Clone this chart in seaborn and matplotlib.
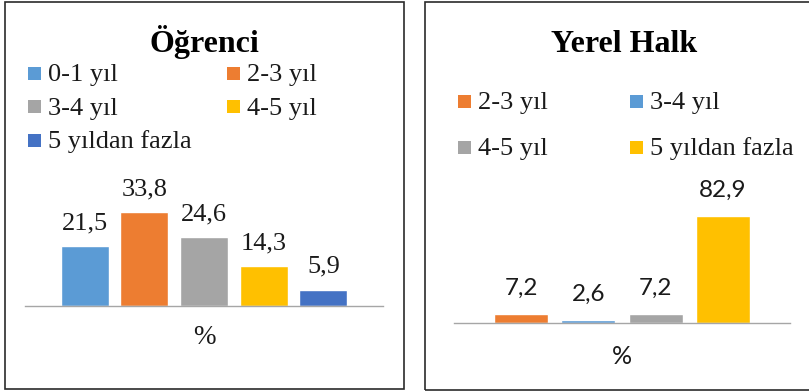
import matplotlib
matplotlib.use("Agg")
import matplotlib.pyplot as plt
from matplotlib.patches import Rectangle
import seaborn as sns

# Survey results: residence duration shares (%)
ogrenci_labels = ["0-1 yıl", "2-3 yıl", "3-4 yıl", "4-5 yıl", "5 yıldan fazla"]
ogrenci_values = [21.5, 33.8, 24.6, 14.3, 5.9]
ogrenci_colors = ["#5B9BD5", "#ED7D31", "#A5A5A5", "#FFC000", "#4472C4"]

halk_labels = ["2-3 yıl", "3-4 yıl", "4-5 yıl", "5 yıldan fazla"]
halk_values = [7.2, 2.6, 7.2, 82.9]
halk_colors = ["#ED7D31", "#5B9BD5", "#A5A5A5", "#FFC000"]

axis_label = "%"
titles = ["Öğrenci", "Yerel Halk"]

sns.set_theme(style="white")
W, H = 809, 391
fig = plt.figure(figsize=(W / 100, H / 100), dpi=100)
fig.patch.set_facecolor("white")

SERIF = ["Liberation Serif", "DejaVu Serif"]
SANS = ["Lato", "DejaVu Sans"]


def fx(px):
    return px / W


def fy(py):
    return 1 - py / H


def add_axes_px(left, right, top, bottom):
    return fig.add_axes([fx(left), fy(bottom), fx(right - left), (bottom - top) / H])


def fmt(v):
    return f"{v:.1f}".replace(".", ",")


def panel_frame(x0, x1, y0, y1):
    fig.add_artist(Rectangle((fx(x0), fy(y1)), fx(x1 - x0), (y1 - y0) / H,
                             transform=fig.transFigure, fill=False,
                             edgecolor="#2b2b2b", linewidth=1.2))


def bar_panel(ax, labels, values, colors, ymax, label_font, label_size, pad_pt):
    sns.barplot(x=labels, y=values, hue=labels, palette=colors, hue_order=labels,
                order=labels, width=0.805, saturation=1, legend=False, ax=ax)
    n = len(labels)
    ax.set_xlim(-1, n)
    ax.set_ylim(0, ymax)
    for i, v in enumerate(values):
        ax.annotate(fmt(v), (i, v), xytext=(0, pad_pt), textcoords="offset points",
                    ha="center", va="baseline", fontsize=label_size,
                    family=label_font, color="#1a1a1a")
    for s in ["top", "left", "right"]:
        ax.spines[s].set_visible(False)
    ax.spines["bottom"].set_color("#A6A6A6")
    ax.spines["bottom"].set_linewidth(1.0)
    ax.set_xticks([])
    ax.set_yticks([])
    ax.set_xlabel("")
    ax.set_ylabel("")
    ax.patch.set_alpha(0)


def legend_entry(x_marker, y_center, x_text, text, color, size=19):
    s = 13
    fig.add_artist(Rectangle((fx(x_marker), fy(y_center + s / 2)), fx(s), s / H,
                             transform=fig.transFigure, facecolor=color,
                             edgecolor="none"))
    fig.text(fx(x_text), fy(y_center + 8), text, ha="left", va="baseline",
             fontsize=size, family=SERIF, color="#1a1a1a")


# Panel frames
panel_frame(4.5, 403.5, 2, 389)
panel_frame(425, 830, 2, 390)

# Left panel: students
ax1 = add_axes_px(25, 383, 150, 306)
bar_panel(ax1, ogrenci_labels, ogrenci_values, ogrenci_colors,
          ymax=156 / 2.79, label_font=SERIF, label_size=19, pad_pt=12)
fig.text(fx(204), fy(52), titles[0], ha="center", va="baseline",
         fontsize=23, fontweight="bold", family=SERIF, color="#000000")
fig.text(fx(204), fy(337), axis_label, ha="center", va="center",
         fontsize=19.5, family=SERIF, color="#1a1a1a")

left_rows = [73.5, 73.5, 106.8, 106.8, 140.1]
left_cols = [(28, 48), (227, 247), (28, 48), (227, 247), (28, 48)]
for lab, col, yc, (xm, xt) in zip(ogrenci_labels, ogrenci_colors, left_rows, left_cols):
    legend_entry(xm, yc, xt, lab, col)

# Right panel: local residents
ax2 = add_axes_px(454, 790, 150, 323)
bar_panel(ax2, halk_labels, halk_values, halk_colors,
          ymax=173 / 1.2907, label_font=SANS, label_size=17.5, pad_pt=13.5)
fig.text(fx(624), fy(52), titles[1], ha="center", va="baseline",
         fontsize=23, fontweight="bold", family=SERIF, color="#000000")
fig.text(fx(622), fy(357), axis_label, ha="center", va="center",
         fontsize=18, family=SANS, color="#1a1a1a")

right_rows = [101, 101, 147.5, 147.5]
right_cols = [(458, 478), (630, 650), (458, 478), (630, 650)]
for lab, col, yc, (xm, xt) in zip(halk_labels, halk_colors, right_rows, right_cols):
    legend_entry(xm, yc, xt, lab, col)

fig.savefig("out.png", dpi=100, facecolor="white")
